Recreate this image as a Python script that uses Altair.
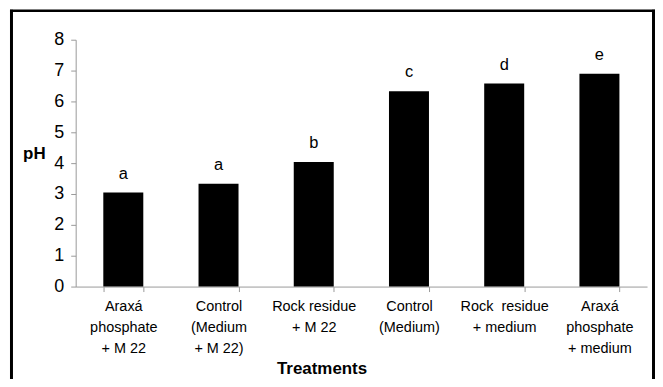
import altair as alt
import pandas as pd

treatments = [
    "Araxá|phosphate|+ M 22",
    "Control|(Medium|+ M 22)",
    "Rock residue|+ M 22",
    "Control|(Medium)",
    "Rock\u00a0 residue|+ medium",
    "Araxá|phosphate|+ medium",
]
ph_values = [3.05, 3.33, 4.04, 6.33, 6.58, 6.90]
letters = ["a", "a", "b", "c", "d", "e"]
y_ticks = [0, 1, 2, 3, 4, 5, 6, 7, 8]

df = pd.DataFrame({"treatment": treatments, "pH": ph_values, "letter": letters})

FONT = "Liberation Sans"
W, H = 574, 248

x_scale = alt.Scale(paddingInner=0.58, paddingOuter=0.29)
y_scale = alt.Scale(domain=[0, 8], nice=False)

x_enc = alt.X(
    "treatment:N",
    sort=treatments,
    scale=x_scale,
    axis=alt.Axis(
        title="Treatments",
        titleFont=FONT,
        titleFontSize=17,
        titleFontWeight="bold",
        titleColor="black",
        titleX=247,
        titleY=87,
        titleBaseline="alphabetic",
        titleAnchor="start",
        titleAlign="center",
        labelAngle=0,
        labelExpr="split(datum.label, '|')",
        labelFont=FONT,
        labelFontSize=14.5,
        labelColor="black",
        labelLineHeight=21,
        labelPadding=8,
        labelLimit=0,
        labelOverlap=False,
        tickBand="extent",
        tickSize=5,
        tickColor="#999999",
        domainColor="#999999",
        domainWidth=1,
    ),
)

y_enc = alt.Y(
    "pH:Q",
    scale=y_scale,
    axis=alt.Axis(
        title="pH",
        titleFont=FONT,
        titleFontSize=17,
        titleFontWeight="bold",
        titleColor="black",
        titleAngle=0,
        titleX=-42,
        titleY=114,
        titleAlign="center",
        titleBaseline="middle",
        values=y_ticks,
        labelOverlap=False,
        labelFont=FONT,
        labelFontSize=18,
        labelColor="black",
        labelPadding=7,
        tickSize=5,
        tickColor="#999999",
        domainColor="#999999",
        domainWidth=1,
        grid=False,
    ),
)

bars = alt.Chart(df).mark_bar(color="black").encode(x=x_enc, y=y_enc)

text = alt.Chart(df).mark_text(
    font=FONT, fontSize=16.5, color="black", baseline="alphabetic", dy=-14
).encode(
    x=alt.X("treatment:N", sort=treatments, scale=x_scale, axis=None),
    y=alt.Y("pH:Q", scale=y_scale, axis=None),
    text="letter:N",
)

frame_df = pd.DataFrame({"k": [0]})
left = alt.Chart(frame_df).mark_rule(color="black", strokeWidth=3, clip=False).encode(
    x=alt.value(-64.5), y=alt.value(-30), y2=alt.value(H + 100)
)
right = alt.Chart(frame_df).mark_rule(color="black", strokeWidth=3, clip=False).encode(
    x=alt.value(580.5), y=alt.value(-30), y2=alt.value(H + 100)
)
top = alt.Chart(frame_df).mark_rule(color="black", strokeWidth=2.5, clip=False).encode(
    x=alt.value(-66), x2=alt.value(582), y=alt.value(-29)
)

chart = (
    alt.layer(bars, text, left, right, top)
    .resolve_axis(x="independent", y="independent")
    .properties(
        width=W,
        height=H,
        autosize=alt.AutoSizeParams(type="none"),
        padding={"left": 68, "top": 31, "right": 8, "bottom": 92},
        background="white",
    )
    .configure_view(stroke=None)
)

chart.save("out.html", embed_options={"renderer": "svg", "actions": False})
